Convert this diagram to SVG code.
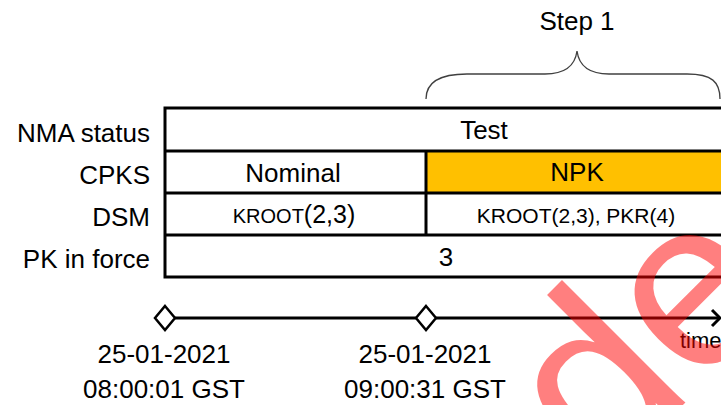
<svg xmlns="http://www.w3.org/2000/svg" width="721" height="405" viewBox="0 0 721 405">
<style>
text{font-family:"Liberation Sans",Arial,sans-serif;fill:#000}
.lbl{font-size:26px;text-anchor:end}
.c{font-size:26px;text-anchor:middle}
.s{font-size:20px}
.ln{stroke:#000;stroke-width:3;fill:none}
</style>
<rect width="721" height="405" fill="#fff"/>
<g id="step1">
<path d="M426,99 C426,82 440,74 467,74 L545,74 C565,74 575,66 577,51 C579,66 589,74 609,74 L687,74 C712,74 720,82 720,99" fill="none" stroke="#404040" stroke-width="1.3"/>
<text class="c" x="577" y="30">Step 1</text>
</g>
<g id="labels">
<text class="lbl" x="150" y="142">NMA status</text>
<text class="lbl" x="150" y="184">CPKS</text>
<text class="lbl" x="150" y="226">DSM</text>
<text class="lbl" x="150" y="268">PK in force</text>
</g>
<g id="table">
<rect x="427" y="151" width="296" height="42" fill="#ffc000"/>
<path class="ln" d="M724,108 H165 V277 H724 M165,151 H724 M165,193 H724 M165,235 H724 M426,151 V235"/>
<text class="c" x="484" y="139">Test</text>
<text class="c" x="293" y="182">Nominal</text>
<text class="c" x="577" y="181">NPK</text>
<text x="294" y="223" text-anchor="middle"><tspan class="s">KROOT</tspan><tspan style="font-size:25px">(2,3)</tspan></text>
<text x="576" y="223" text-anchor="middle" style="font-size:21px">KROOT(2,3), PKR(4)</text>
<text class="c" x="446" y="266">3</text>
</g>
<g id="connectors">
<path class="ln" d="M165,318 H720"/>
<path class="ln" d="M712,310 L720,318 L712,326"/>
</g>
<g id="t0">
<path d="M165,306 L175,318 L165,330 L155,318 Z" fill="#fff" stroke="#000" stroke-width="2.5"/>
<text class="c" x="164" y="363">25-01-2021</text>
<text class="c" x="164" y="398">08:00:01 GST</text>
</g>
<g id="t1">
<path d="M426,306 L436,318 L426,330 L416,318 Z" fill="#fff" stroke="#000" stroke-width="2.5"/>
<text class="c" x="425" y="363">25-01-2021</text>
<text class="c" x="425" y="398">09:00:31 GST</text>
</g>
<text x="680" y="348" style="font-size:22px">time</text>
<text x="602" y="486" transform="rotate(-45 602 486)" style="font-size:240px;fill:#ff0000;fill-opacity:0.5">de</text>
</svg>
